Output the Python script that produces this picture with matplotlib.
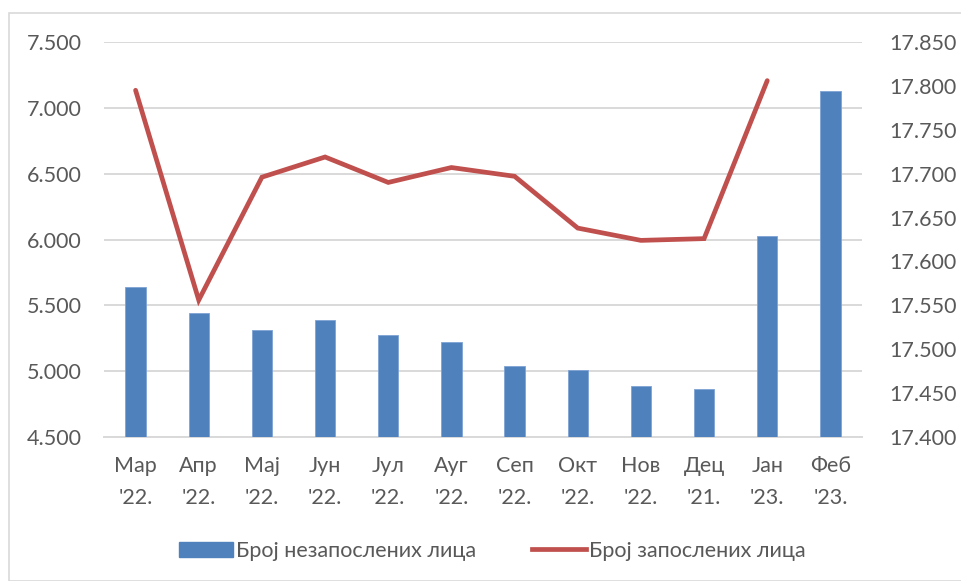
import matplotlib
matplotlib.use("Agg")
import matplotlib.pyplot as plt
import numpy as np
from matplotlib.ticker import FuncFormatter, MultipleLocator
from matplotlib.patches import Rectangle
from matplotlib.lines import Line2D

categories = ["Мар\n'22.", "Апр\n'22.", "Мај\n'22.", "Јун\n'22.", "Јул\n'22.", "Ауг\n'22.",
              "Сеп\n'22.", "Окт\n'22.", "Нов\n'22.", "Дец\n'21.", "Јан\n'23.", "Феб\n'23."]
unemployed = [5640, 5440, 5316, 5388, 5274, 5225, 5039, 5009, 4887, 4868, 6026, 7127]
employed = [17795, 17556, 17696, 17719, 17690, 17707, 17697, 17638, 17624, 17626, 17806, np.nan]

bar_label = "Број незапослених лица"
line_label = "Број запослених лица"

plt.rcParams['font.family'] = ['Lato', 'DejaVu Sans']
FS = 15.5

fig = plt.figure(figsize=(9.62, 5.81), dpi=100)
ax = fig.add_axes([104/962, 1-437/581, (862-104)/962, (437-42)/581])
ax2 = ax.twinx()

x = np.arange(len(categories))
ax.bar(x, np.array(unemployed) - 4500, bottom=4500, width=0.32, color="#4f81bd",
       edgecolor="#7ea3d4", linewidth=0.6, zorder=3)
ax2.plot(x, employed, color="#c0504d", linewidth=3.4, solid_capstyle="round",
         solid_joinstyle="miter", zorder=4)

ax.set_xlim(-0.5, len(categories) - 0.5)
ax.set_ylim(4500, 7500)
ax2.set_ylim(17400, 17850)
ax.yaxis.set_major_locator(MultipleLocator(500))
ax2.yaxis.set_major_locator(MultipleLocator(50))
fmt = FuncFormatter(lambda v, p: f"{int(round(v)):,}".replace(",", "."))
ax.yaxis.set_major_formatter(fmt)
ax2.yaxis.set_major_formatter(fmt)

ax.grid(axis="y", color="#d9d9d9", linewidth=1.4, zorder=0)
ax.set_axisbelow(True)
for a in (ax, ax2):
    for s in a.spines.values():
        s.set_visible(False)
ax.spines['bottom'].set_visible(True)
ax.spines['bottom'].set_color("#d9d9d9")
ax.spines['bottom'].set_linewidth(1.4)

ax.set_xticks(x)
ax.set_xticklabels(categories, linespacing=1.75)
ax.tick_params(axis="x", length=0, pad=14, labelsize=FS, labelcolor="#595959")
ax.tick_params(axis="y", length=0, pad=16, labelsize=FS, labelcolor="#595959")
ax2.tick_params(axis="y", length=0, pad=20, labelsize=FS, labelcolor="#595959")

# outer frame
fig.patches.append(Rectangle((9/962, 0), 1 - 9/962 + 0.01, 1 - 13/581, transform=fig.transFigure,
                             fill=False, edgecolor="#d9d9d9", linewidth=1.2, zorder=0))

handles = [Rectangle((0, 0), 1, 1, color="#4f81bd"),
           Line2D([0], [0], color="#c0504d", linewidth=3.4)]
fig.legend(handles, [bar_label, line_label], loc="center", bbox_to_anchor=(0.512, 1 - 551/581),
           ncol=2, frameon=False, fontsize=FS, labelcolor="#595959", handlelength=2.5,
           handletextpad=0.15, columnspacing=2.6)

fig.savefig("out.png", dpi=100)
